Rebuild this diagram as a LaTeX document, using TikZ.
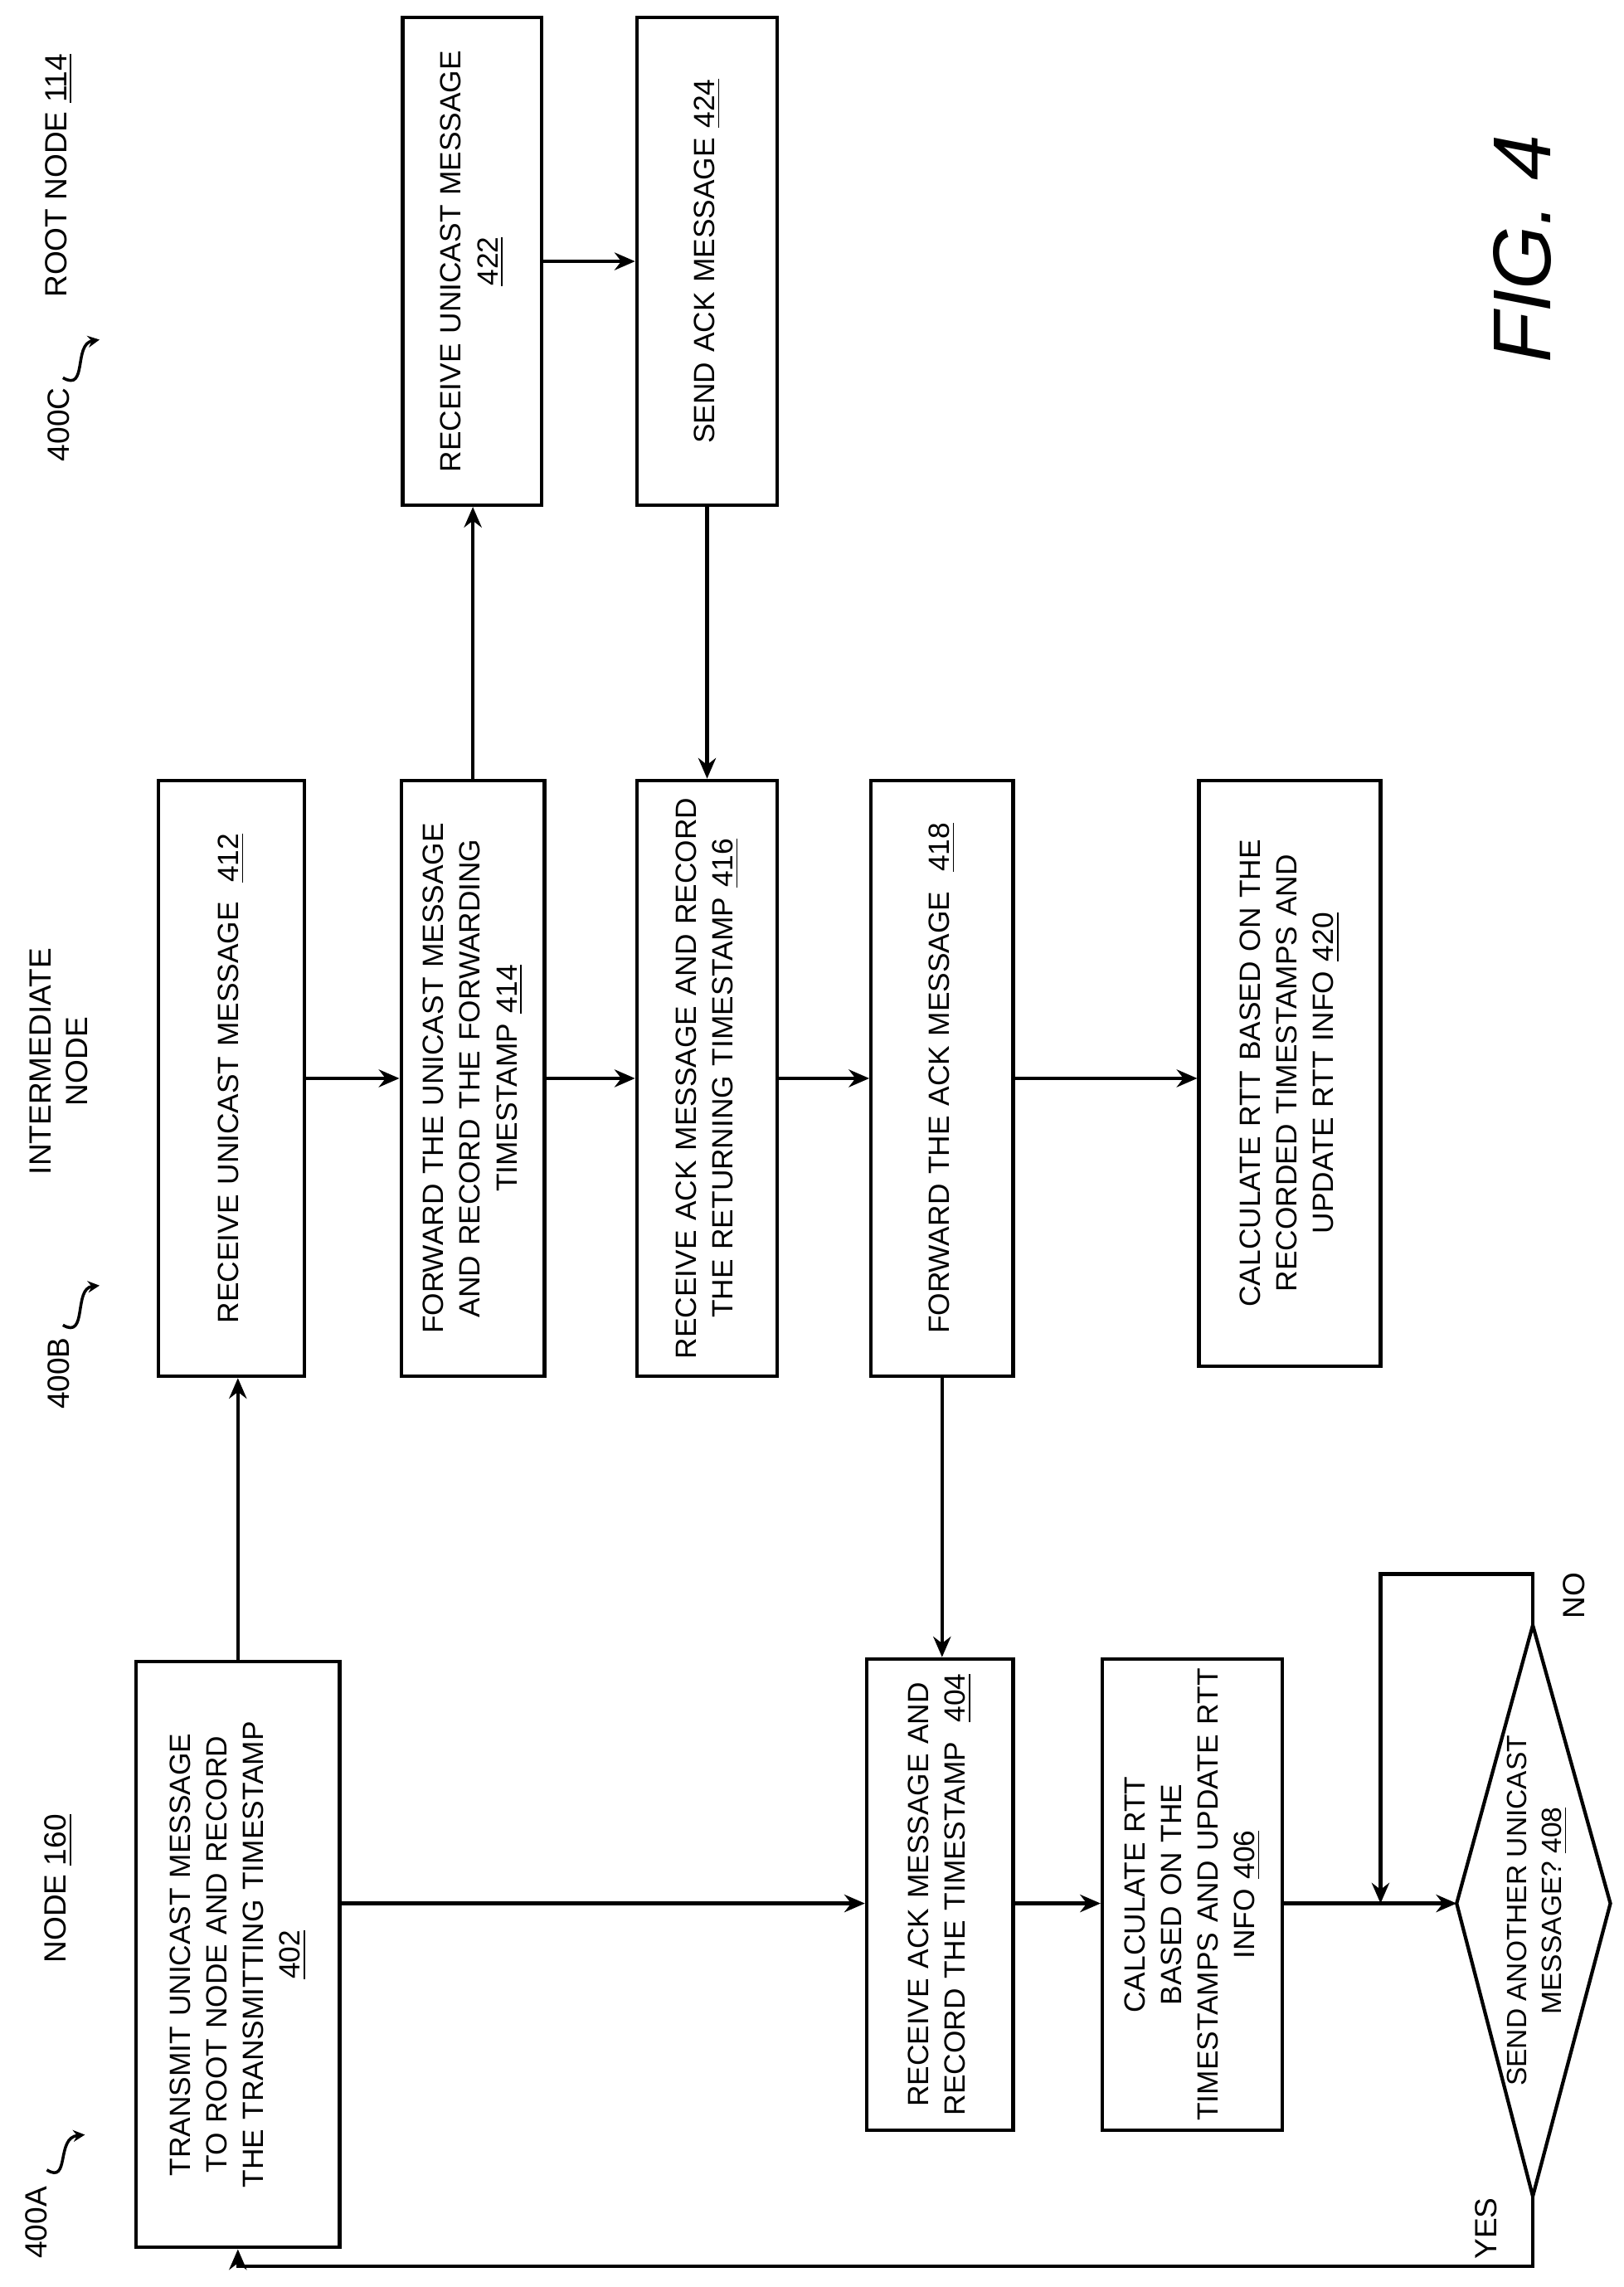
\documentclass[tikz,border=0pt]{standalone}
\usepackage{fontspec}
\setmainfont{Liberation Sans}
\usetikzlibrary{arrows.meta}
\hyphenpenalty=10000 \exhyphenpenalty=10000
\begin{document}
\begin{tikzpicture}[x={(0.5pt,0)},y={(0,-0.5pt)},
  box/.style={draw,line width=1.2pt,rotate=90,align=center,inner sep=1pt,font=\fontsize{10}{12.5}\selectfont},
  arr/.style={line width=1.2pt,-{Stealth[length=7pt,width=6pt]}},
  lbl/.style={rotate=90,font=\fontsize{10.5}{12.5}\selectfont,align=center},
  sq/.style={line width=1pt,-{Stealth[length=4pt,width=4pt]}}]
\useasboundingbox (0,0) rectangle (1109,1562);
\node[box,minimum width=200pt,minimum height=69.5pt,text width=196pt] (n402) at (162.5,1335) {TRANSMIT UNICAST MESSAGE\\TO ROOT NODE AND RECORD\\THE TRANSMITTING TIMESTAMP\\\underline{402}};
\node[box,minimum width=203.5pt,minimum height=50pt,text width=199pt] (n412) at (158,736.5) {RECEIVE UNICAST MESSAGE\ \ \underline{412}};
\node[box,minimum width=203.5pt,minimum height=49pt,text width=199pt] (n414) at (323,736.5) {FORWARD THE UNICAST MESSAGE\\AND RECORD THE FORWARDING\\TIMESTAMP \underline{414}};
\node[box,minimum width=203.5pt,minimum height=48pt,text width=199pt] (n416) at (483,736.5) {RECEIVE ACK MESSAGE AND RECORD\\THE RETURNING TIMESTAMP \underline{416}};
\node[box,minimum width=203.5pt,minimum height=48.5pt,text width=199pt] (n418) at (643.5,736.5) {FORWARD THE ACK MESSAGE\ \ \underline{418}};
\node[box,minimum width=200pt,minimum height=62pt,text width=196pt] (n420) at (881,733) {CALCULATE RTT BASED ON THE\\RECORDED TIMESTAMPS AND\\UPDATE RTT INFO \underline{420}};
\node[box,minimum width=166.5pt,minimum height=47.5pt,text width=162pt] (n422) at (322.5,178.5) {RECEIVE UNICAST MESSAGE\\\underline{422}};
\node[box,minimum width=166.5pt,minimum height=48pt,text width=162pt] (n424) at (483,178.5) {SEND ACK MESSAGE \underline{424}};
\node[box,minimum width=161pt,minimum height=50pt,text width=158pt] (n404) at (642,1294) {RECEIVE ACK MESSAGE AND\\RECORD THE TIMESTAMP\ \ \underline{404}};
\node[box,minimum width=161pt,minimum height=61.5pt,text width=158pt] (n406) at (814.5,1294) {CALCULATE RTT BASED ON THE\\TIMESTAMPS AND UPDATE RTT\\INFO \underline{406}};
% diamond
\coordinate (dl) at (995,1300); \coordinate (dr) at (1100,1300);
\coordinate (dt) at (1047,1110); \coordinate (db) at (1047,1500);
\draw[line width=1.2pt] (dl) -- (dt) -- (dr) -- (db) -- cycle;
\node[lbl,font=\fontsize{9.5}{12}\selectfont] (n408) at (1050,1305) {SEND ANOTHER UNICAST\\MESSAGE? \underline{408}};
\coordinate (join) at (943,1300);
\coordinate (ytop) at (1047,1548);
\coordinate (ntop) at (1047,1075);
% arrows
\draw[arr] (n402.east) -- (n402.east |- n412.west);
\draw[arr] (n402.south |- dl) -- (n404.north |- dl);
\draw[arr] (n404.south |- dl) -- (n406.north |- dl);
\draw[arr] (n406.south |- dl) -- (dl);
\draw[arr] (dt) -- (ntop) -| (join);
\draw[arr] (db) -- (ytop) -| (n402.west);
\draw[arr] (n412.south) -- (n414.north);
\draw[arr] (n414.south) -- (n416.north);
\draw[arr] (n416.south) -- (n418.north);
\draw[arr] (n418.south) -- (n420.north |- n418.south);
\draw[arr] (n414.east) -- (n414.east |- n422.west);
\draw[arr] (n422.south) -- (n424.north);
\draw[arr] (n424.west) -- (n424.west |- n416.east);
\draw[arr] (n418.west) -- (n418.west |- n404.east);
% labels
\node[lbl] (l400a) at (25,1518) {400A};
\draw[sq] (32,1482) .. controls (48,1492) and (38,1460) .. (58,1458);
\node[lbl] (lnode) at (40,1290) {NODE \underline{160}};
\node[lbl] (l400b) at (40,938) {400B};
\draw[sq] (43,905) .. controls (60,915) and (50,880) .. (68,878);
\node[lbl] (linter) at (40,725) {INTERMEDIATE\\NODE};
\node[lbl] (l400c) at (40,290) {400C};
\draw[sq] (43,258) .. controls (60,268) and (50,235) .. (68,232);
\node[lbl] (lroot) at (40,120) {ROOT NODE \underline{114}};
\node[rotate=90,font=\fontsize{28}{30}\selectfont\itshape] (fig) at (1040,170) {FIG. 4};
\node[lbl] (yes) at (1015,1522) {YES};
\node[lbl] (no) at (1075,1090) {NO};
\end{tikzpicture}
\end{document}
